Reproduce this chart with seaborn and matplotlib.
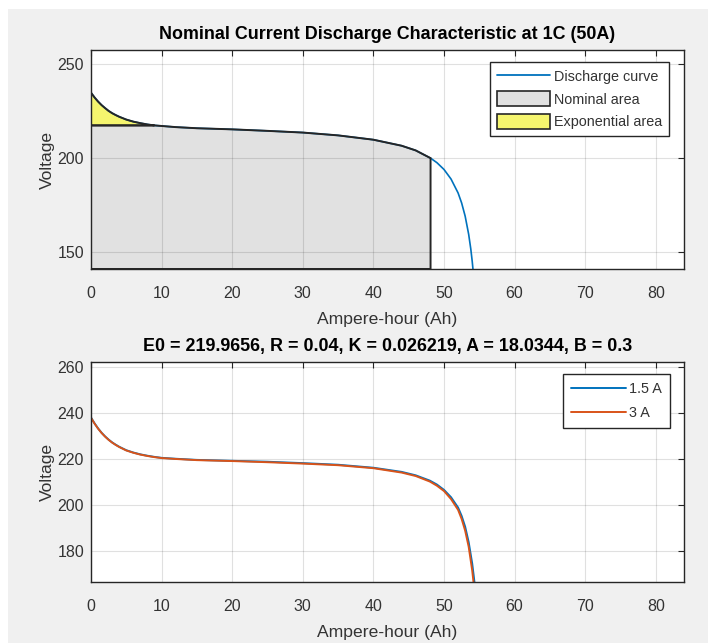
import numpy as np
import pandas as pd
import matplotlib
matplotlib.use("Agg")
import matplotlib.pyplot as plt
from matplotlib.patches import Patch, Rectangle
from matplotlib.lines import Line2D
import seaborn as sns

# ---- data -------------------------------------------------------------
# Nominal discharge curve at 1C (50 A)
ah_nominal = [0, 0.5, 1, 1.5, 2, 2.5, 3, 3.5, 4, 5, 6, 7, 8, 9, 10, 12, 15,
              20, 25, 30, 35, 40, 44, 46, 48.1, 49, 50, 51, 52, 52.5, 53,
              53.5, 53.8, 54, 54.2]
v_nominal = [234.7, 232.2, 230.0, 228.1, 226.5, 225.0, 223.8, 222.8, 221.9,
             220.4, 219.3, 218.5, 217.8, 217.3, 217.0, 216.4, 215.8, 215.2,
             214.4, 213.5, 212.0, 209.7, 206.5, 204.0, 199.9, 197.5, 193.9,
             188.8, 181.4, 176.1, 169.1, 159.4, 151.6, 145.1, 137.3]

# Exponential and nominal zone corners
q_exp, v_exp = 9, 217.3
q_nom, v_nom = 48.1, 199.9

# Discharge curves at user currents
ah_user = [0, 0.5, 1, 1.5, 2, 2.5, 3, 3.5, 4, 5, 6, 7, 8, 9, 10, 12, 15, 20,
           25, 30, 35, 40, 44, 46, 48, 49, 50, 51, 52, 52.5, 53, 53.5, 54,
           54.2, 54.45, 54.6]
v_1p5A = [237.9, 235.4, 233.2, 231.3, 229.7, 228.3, 227.1, 226.1, 225.2,
          223.7, 222.7, 221.9, 221.3, 220.8, 220.4, 220.0, 219.5, 219.1,
          218.7, 218.1, 217.4, 216.1, 214.3, 212.8, 210.5, 208.8, 206.5,
          203.3, 198.8, 195.2, 190.5, 183.8, 174.5, 169.5, 163.0, 158.0]
v_3A = [237.8, 235.3, 233.1, 231.2, 229.6, 228.2, 227.0, 226.0, 225.1,
        223.6, 222.6, 221.8, 221.2, 220.7, 220.3, 219.9, 219.4, 219.0,
        218.5, 217.9, 217.2, 215.9, 214.0, 212.5, 210.1, 208.3, 206.0,
        202.5, 197.8, 193.9, 188.8, 181.8, 171.5, 166.0, 159.0, 154.0]

x_ticks = [0, 10, 20, 30, 40, 50, 60, 70, 80]
y_ticks_top = [150, 200, 250]
y_ticks_bottom = [180, 200, 220, 240, 260]

title_top = "Nominal Current Discharge Characteristic at 1C (50A)"
title_bottom = "E0 = 219.9656, R = 0.04, K = 0.026219, A = 18.0344, B = 0.3"
x_label = "Ampere-hour (Ah)"
y_label = "Voltage"

# ---- style ------------------------------------------------------------
sns.set_theme(style="white")
plt.rcParams["font.family"] = ["Liberation Sans", "DejaVu Sans"]

BLUE = "#0072BD"
ORANGE = "#D95319"
DARK = "#262626"
TXT = "#333333"
GRAY_FILL = "#e1e1e1"
YELLOW_FILL = "#f5f56e"
BG = "#f0f0f0"

TICK_FS = 11.5
LABEL_FS = 12.6
TITLE_FS = 12.9
LEGEND_FS = 10.4

fig = plt.figure(figsize=(7.08, 6.43), dpi=100, facecolor=BG)
# white margin strips along the top and left edges
fig.patches.append(Rectangle((0, 0.986), 1, 0.014, transform=fig.transFigure,
                             facecolor="white", edgecolor="none", zorder=-10))
fig.patches.append(Rectangle((0, 0), 0.012, 1, transform=fig.transFigure,
                             facecolor="white", edgecolor="none", zorder=-10))

ax1 = fig.add_axes([0.1285, 0.5817, 0.8376, 0.3406])
ax2 = fig.add_axes([0.1285, 0.0949, 0.8376, 0.3421])


def style_axes(ax, yticks, ylim):
    ax.set_facecolor("white")
    ax.set_xlim(0, 84)
    ax.set_ylim(*ylim)
    ax.set_xticks(x_ticks)
    ax.set_yticks(yticks)
    ax.set_axisbelow(False)
    ax.grid(True, color="black", alpha=0.12, linewidth=0.8)
    for s in ax.spines.values():
        s.set_visible(True)
        s.set_color(DARK)
        s.set_linewidth(1.0)
        s.set_zorder(6)
    ax.tick_params(axis="both", which="both", direction="in", length=4,
                   width=0.8, color=DARK, labelsize=TICK_FS,
                   labelcolor=TXT, top=True, right=True)
    ax.tick_params(axis="x", pad=12.5)
    ax.tick_params(axis="y", pad=5)
    ax.set_xlabel(x_label, fontsize=LABEL_FS, color=TXT, labelpad=7.5)
    ax.set_ylabel(y_label, fontsize=LABEL_FS, color=TXT, labelpad=2)


# ---- top panel: nominal discharge characteristic ----------------------
ylim_top = (141.0, 257.4)
style_axes(ax1, y_ticks_top, ylim_top)

df_nom = pd.DataFrame({"Ah": ah_nominal, "V": v_nominal})
sns.lineplot(data=df_nom, x="Ah", y="V", ax=ax1, color=BLUE, linewidth=1.2,
             zorder=3, sort=False, estimator=None)

ah_arr = np.array(ah_nominal, dtype=float)
v_arr = np.array(v_nominal, dtype=float)
floor = ylim_top[0]

# exponential zone: curve from 0 to q_exp above the v_exp level
m_exp = ah_arr <= q_exp
exp_x = np.concatenate([ah_arr[m_exp], [q_exp, 0]])
exp_y = np.concatenate([v_arr[m_exp], [v_exp, v_exp]])

# nominal zone: flat at v_exp up to q_exp, then the curve up to q_nom
m_nom = (ah_arr >= q_exp) & (ah_arr <= q_nom)
nom_x = np.concatenate([[0, 0, q_exp], ah_arr[m_nom], [q_nom, q_nom]])
nom_y = np.concatenate([[floor, v_exp, v_exp], v_arr[m_nom], [v_nom, floor]])

ax1.fill(nom_x, nom_y, facecolor=GRAY_FILL, edgecolor="none", zorder=1)
ax1.fill(exp_x, exp_y, facecolor=YELLOW_FILL, edgecolor="none", zorder=1)
ax1.fill(nom_x, nom_y, facecolor="none", edgecolor=DARK, linewidth=1.4,
         zorder=4)
ax1.fill(exp_x, exp_y, facecolor="none", edgecolor=DARK, linewidth=1.4,
         zorder=4)

ax1.set_title(title_top, fontsize=TITLE_FS, fontweight="bold", color="black",
              pad=8)

h_top = [Line2D([], [], color=BLUE, linewidth=1.3),
         Patch(facecolor=GRAY_FILL, edgecolor=DARK, linewidth=1.2),
         Patch(facecolor=YELLOW_FILL, edgecolor=DARK, linewidth=1.2)]
leg1 = ax1.legend(h_top, ["Discharge curve", "Nominal area", "Exponential area"],
                  loc="upper right", bbox_to_anchor=(0.975, 0.945),
                  borderaxespad=0, fontsize=LEGEND_FS, frameon=True,
                  fancybox=False, edgecolor=DARK, framealpha=1,
                  handlelength=3.7, handleheight=1.25, handletextpad=0.3,
                  labelspacing=0.5, borderpad=0.45)
leg1.get_frame().set_linewidth(1.0)
leg1.set_zorder(10)
for t in leg1.get_texts():
    t.set_color(TXT)

# ---- bottom panel: user currents --------------------------------------
ylim_bot = (166.5, 262.0)
style_axes(ax2, y_ticks_bottom, ylim_bot)

df_user = pd.DataFrame({
    "Ah": ah_user * 2,
    "V": v_1p5A + v_3A,
    "Current": ["1.5 A"] * len(ah_user) + ["3 A"] * len(ah_user),
})
sns.lineplot(data=df_user, x="Ah", y="V", hue="Current", ax=ax2,
             palette={"1.5 A": BLUE, "3 A": ORANGE}, linewidth=1.4,
             sort=False, estimator=None, zorder=3, legend=False)

ax2.set_title(title_bottom, fontsize=TITLE_FS, fontweight="bold",
              color="black", pad=8)

h_bot = [Line2D([], [], color=BLUE, linewidth=1.4),
         Line2D([], [], color=ORANGE, linewidth=1.4)]
leg2 = ax2.legend(h_bot, ["1.5 A", "3 A"], loc="upper right",
                  bbox_to_anchor=(0.976, 0.944), borderaxespad=0,
                  fontsize=LEGEND_FS, frameon=True, fancybox=False,
                  edgecolor=DARK, framealpha=1, handlelength=3.8,
                  handletextpad=0.2, labelspacing=0.65, borderpad=0.55)
leg2.get_frame().set_linewidth(1.0)
leg2.set_zorder(10)
for t in leg2.get_texts():
    t.set_color(TXT)

fig.savefig("out.png", dpi=100, facecolor=fig.get_facecolor())
